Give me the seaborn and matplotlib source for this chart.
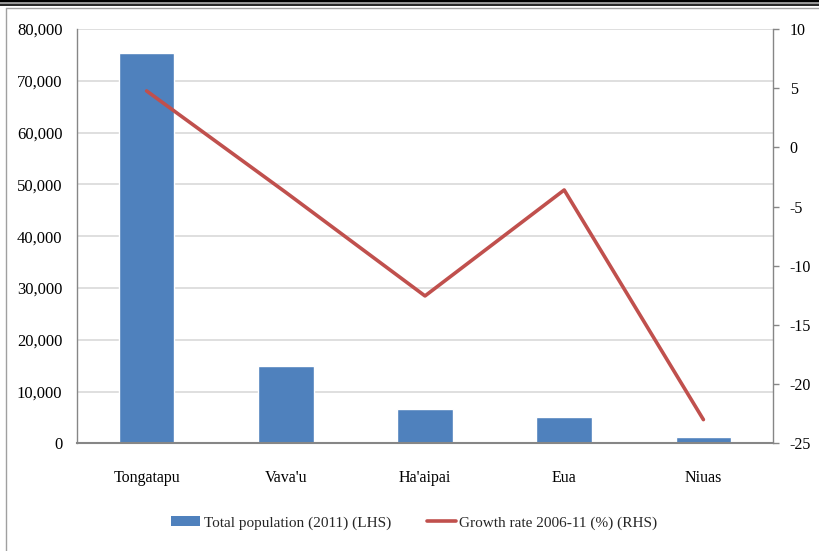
import matplotlib
matplotlib.use("Agg")
import matplotlib.pyplot as plt
import matplotlib.lines as mlines
import matplotlib.patches as mpatches
import seaborn as sns
import pandas as pd

regions = ["Tongatapu", "Vava'u", "Ha'aipai", "Eua", "Niuas"]
population = [75416, 14922, 6616, 5016, 1232]
growth = [4.77, -3.8, -12.55, -3.6, -23.0]
left_ticks = [0, 10000, 20000, 30000, 40000, 50000, 60000, 70000, 80000]
right_ticks = [-25, -20, -15, -10, -5, 0, 5, 10]
legend_labels = ["Total population (2011) (LHS)", "Growth rate 2006-11 (%) (RHS)"]

BAR = "#4F81BD"
LINE = "#C0504D"
GRID = "#D9D9D9"
AXIS = "#868686"

sns.set_theme(style="white")
plt.rcParams["font.family"] = ["Liberation Serif", "DejaVu Serif"]

df = pd.DataFrame({"region": regions, "population": population, "growth": growth})

fig = plt.figure(figsize=(8.2, 5.51), dpi=100)
ax = fig.add_axes([77 / 820, 1 - 443.3 / 551, 696 / 820, 414.3 / 551])

sns.barplot(data=df, x="region", y="population", order=regions, color=BAR,
            width=0.4, saturation=1, ax=ax, zorder=2)
ax.set_ylim(0, 80000)
ax.set_xlim(-0.5, 4.5)
ax.set_yticks(left_ticks)
ax.set_yticklabels([f"{v:,}" for v in left_ticks])
ax.yaxis.grid(True, color=GRID, linewidth=1.2, zorder=0)
ax.set_axisbelow(True)
ax.set_xlabel("")
ax.set_ylabel("")
ax.tick_params(axis="y", length=0, pad=10.5, labelsize=12, colors="black")
ax.tick_params(axis="x", length=0, pad=19, labelsize=11.5, colors="black")
for s in ["top", "right"]:
    ax.spines[s].set_visible(False)
ax.spines["left"].set_color(AXIS)
ax.spines["left"].set_linewidth(1.0)
ax.spines["bottom"].set_color(AXIS)
ax.spines["bottom"].set_linewidth(1.5)

ax2 = ax.twinx()
sns.lineplot(data=df, x="region", y="growth", sort=False, color=LINE,
             linewidth=2.6, ax=ax2, zorder=3)
ax2.set_ylim(-25, 10)
ax2.set_yticks(right_ticks)
ax2.set_yticklabels([str(v) for v in right_ticks])
ax2.set_xlim(-0.5, 4.5)
ax2.set_ylabel("")
ax2.set_xlabel("")
ax2.grid(False)
ax2.tick_params(axis="y", direction="out", length=4, width=1, color=AXIS,
                pad=8, labelsize=11.5, colors="black")
for s in ["top", "left", "bottom"]:
    ax2.spines[s].set_visible(False)
ax2.spines["right"].set_color(AXIS)
ax2.spines["right"].set_linewidth(1.0)

handles = [mpatches.Patch(facecolor=BAR, edgecolor="none"),
           mlines.Line2D([], [], color=LINE, linewidth=2.6)]
fig.legend(handles, legend_labels, loc="center", bbox_to_anchor=(414.5 / 820, 1 - 523 / 551),
           ncol=2, frameon=False, fontsize=11, handlelength=1.9, handleheight=0.65,
           handletextpad=0.25, columnspacing=2.3)

# outer frame (cropped screenshot border)
fig.add_artist(mlines.Line2D([0, 1], [1 - 1 / 551, 1 - 1 / 551], transform=fig.transFigure,
                             color="black", linewidth=1.5))
fig.add_artist(mpatches.Rectangle((0, 1 - 4 / 551), 1, 3 / 551, transform=fig.transFigure,
                                  facecolor="#9a9a9a", edgecolor="none"))
fig.add_artist(mlines.Line2D([0, 1], [1 - 4.5 / 551, 1 - 4.5 / 551], transform=fig.transFigure,
                             color="black", linewidth=1.2))
fig.add_artist(mlines.Line2D([6 / 820, 1], [1 - 7.5 / 551, 1 - 7.5 / 551], transform=fig.transFigure,
                             color="#a0a0a0", linewidth=1.0))
fig.add_artist(mlines.Line2D([6 / 820, 6 / 820], [0, 1 - 7.5 / 551], transform=fig.transFigure,
                             color="#a0a0a0", linewidth=1.0))

fig.savefig("out.png", dpi=100, facecolor="white")
